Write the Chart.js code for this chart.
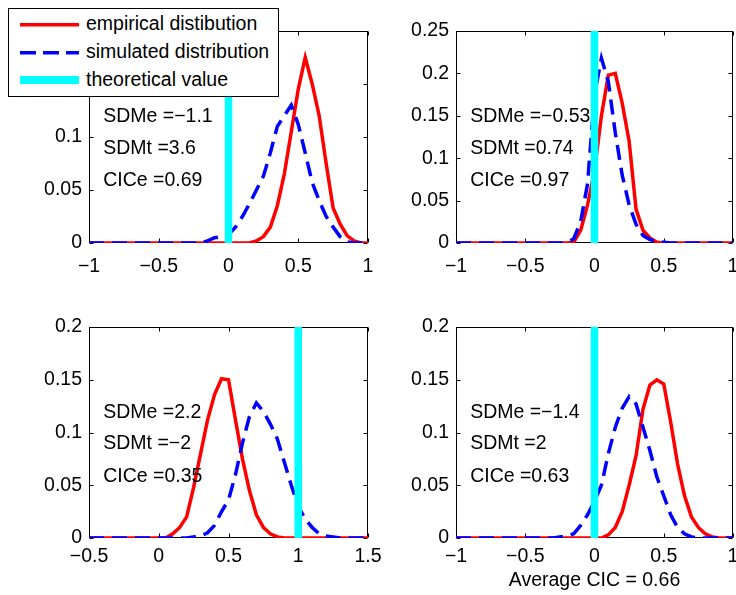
<!DOCTYPE html>
<html>
<head>
<meta charset="utf-8">
<script src="https://cdn.jsdelivr.net/npm/chart.js@4.4.0/dist/chart.umd.min.js"></script>
<style>
  body { margin: 0; background: #fff; width: 736px; height: 595px; overflow: hidden; position: relative;
         font-family: "Liberation Sans", Arial, sans-serif; }
  canvas { position: absolute; }
  #legend { position: absolute; left: 8px; top: 8px; width: 269px; height: 87px; border: 1px solid #000;
            background: #fff; z-index: 5; }
  #legend svg { position: absolute; left: 0; top: 0; }
  #legend span { position: absolute; left: 77px; font-size: 19.5px; line-height: 22px; color: #000; white-space: nowrap; }
</style>
</head>
<body>
<canvas id="c1" width="400" height="290" style="left:0;top:0"></canvas>
<canvas id="c2" width="356" height="290" style="left:380px;top:0"></canvas>
<canvas id="c3" width="400" height="305" style="left:0;top:290px"></canvas>
<canvas id="c4" width="356" height="305" style="left:380px;top:290px"></canvas>

<div id="legend">
  <svg width="269" height="87">
    <line x1="11" y1="15.7" x2="70" y2="15.7" stroke="#ff0000" stroke-width="3.5"/>
    <line x1="11" y1="43.7" x2="70" y2="43.7" stroke="#0000ff" stroke-width="3.5" stroke-dasharray="16 7"/>
    <line x1="11" y1="71" x2="70" y2="71" stroke="#00ffff" stroke-width="8"/>
  </svg>
  <span style="top:3px">empirical distibution</span>
  <span style="top:31px">simulated distribution</span>
  <span style="top:59px">theoretical value</span>
</div>

<script>
// x grids (bin centres)
const xGridA = [-1,-0.95,-0.9,-0.85,-0.8,-0.75,-0.7,-0.65,-0.6,-0.55,-0.5,-0.45,-0.4,-0.35,-0.3,-0.25,-0.2,-0.15,-0.1,-0.05,
                0,0.05,0.1,0.15,0.2,0.25,0.3,0.35,0.4,0.45,0.5,0.55,0.6,0.65,0.7,0.75,0.8,0.85,0.9,0.95,1];
const xGridB = [-0.5,-0.45,-0.4,-0.35,-0.3,-0.25,-0.2,-0.15,-0.1,-0.05,0,0.05,0.1,0.15,0.2,0.25,0.3,0.35,0.4,0.45,
                0.5,0.55,0.6,0.65,0.7,0.75,0.8,0.85,0.9,0.95,1,1.05,1.1,1.15,1.2,1.25,1.3,1.35,1.4,1.45,1.5];

// top left
const red1  = [0,0,0,0,0,0,0,0,0,0,0,0,0,0,0,0,0,0,0,0,0,0,0,0,
               0.002,0.006,0.015,0.035,0.065,0.105,0.145,0.175,0.15,0.12,0.075,0.033,0.018,0.007,0.002,0,0];
const blue1 = [0,0,0,0,0,0,0,0,0,0,0,0,0,0,0,0,0,
               0.002,0.005,0.006,0.008,0.015,0.025,0.037,0.05,0.063,0.085,0.11,0.12,0.13,0.112,0.085,0.057,0.04,0.025,0.015,0.006,0.001,0,0,0];
// top right
const red2  = [0,0,0,0,0,0,0,0,0,0,0,0,0,0,0,0,0,
               0.001,0.015,0.045,0.085,0.15,0.198,0.2,0.165,0.12,0.04,0.015,0.006,0.001,
               0,0,0,0,0,0,0,0,0,0,0];
const blue2 = [0,0,0,0,0,0,0,0,0,0,0,0,0,0,0,0,0,
               0.005,0.025,0.07,0.175,0.218,0.19,0.13,0.08,0.045,0.022,0.009,0.004,0.002,0.001,
               0,0,0,0,0,0,0,0,0,0];
// bottom left
const red3  = [0,0,0,0,0,0,0,0,0,0,0,0,
               0.004,0.01,0.02,0.048,0.08,0.112,0.136,0.151,0.15,0.112,0.075,0.045,0.022,0.01,0.004,0.001,
               0,0,0,0,0,0,0,0,0,0,0,0,0];
const blue3 = [0,0,0,0,0,0,0,0,0,0,0,0,0,0,0,
               0.001,0.002,0.005,0.012,0.025,0.036,0.06,0.09,0.115,0.128,0.12,0.108,0.094,0.072,0.05,0.03,0.018,0.01,0.004,0.002,0.001,
               0,0,0,0,0];
// bottom right
const red4  = [0,0,0,0,0,0,0,0,0,0,0,0,0,0,0,0,0,0,0,0,0,0,
               0.003,0.01,0.025,0.05,0.078,0.122,0.145,0.15,0.146,0.11,0.07,0.04,0.02,0.01,0.004,0.001,
               0,0,0];
const blue4 = [0,0,0,0,0,0,0,0,0,0,0,0,0,0,0,
               0.001,0.002,0.004,0.012,0.022,0.035,0.05,0.08,0.105,0.123,0.134,0.127,0.105,0.083,0.058,0.04,0.022,0.01,0.004,0.001,
               0,0,0,0,0,0];

const theory = [0, 0, 1, 0];
const yMaxes = [0.2, 0.25, 0.2, 0.2];

const sdme = ["\u22121.1", "\u22120.53", "2.2", "\u22121.4"];
const sdmt = ["3.6", "0.74", "\u22122", "2"];
const cice = ["0.69", "0.97", "0.35", "0.63"];

const xTicksA = [-1, -0.5, 0, 0.5, 1];
const xLabelsA = ["\u22121", "\u22120.5", "0", "0.5", "1"];
const xTicksB = [-0.5, 0, 0.5, 1, 1.5];
const xLabelsB = ["\u22120.5", "0", "0.5", "1", "1.5"];
const yTicks20 = [0, 0.05, 0.1, 0.15, 0.2];
const yLabels20 = ["0", "0.05", "0.1", "0.15", "0.2"];
const yTicks25 = [0, 0.05, 0.1, 0.15, 0.2, 0.25];
const yLabels25 = ["0", "0.05", "0.1", "0.15", "0.2", "0.25"];

const FONT = "'Liberation Sans', Arial, sans-serif";
const FSIZE = 19.5;

// matlab style box with inward ticks + the text notes
const boxPlugin = {
  id: 'mbox',
  beforeDatasetsDraw(chart) {
    const {ctx, chartArea: a, scales: {x, y}} = chart;
    const L = Math.round(a.left) + 0.5, R = Math.round(a.right) - 0.5;
    const T = Math.round(a.top) + 0.5, B = Math.round(a.bottom) - 0.5;
    ctx.save();
    ctx.strokeStyle = '#000';
    ctx.lineWidth = 1;
    ctx.strokeRect(L, T, R - L, B - T);
    ctx.beginPath();
    x.ticks.forEach(t => {
      const px = Math.round(x.getPixelForValue(t.value)) + 0.5;
      ctx.moveTo(px, B); ctx.lineTo(px, B - 4);
      ctx.moveTo(px, T); ctx.lineTo(px, T + 4);
    });
    y.ticks.forEach(t => {
      const py = Math.round(y.getPixelForValue(t.value)) + 0.5;
      ctx.moveTo(L, py); ctx.lineTo(L + 4, py);
      ctx.moveTo(R, py); ctx.lineTo(R - 4, py);
    });
    ctx.stroke();
    ctx.restore();
  },
  afterDatasetsDraw(chart, args, opts) {
    const {ctx, chartArea: a} = chart;
    const w = a.right - a.left, h = a.bottom - a.top;
    ctx.save();
    ctx.font = FSIZE + 'px ' + FONT;
    ctx.fillStyle = '#000';
    ctx.textBaseline = 'middle';
    ctx.textAlign = 'left';
    const fr = [0.404, 0.555, 0.708];
    opts.lines.forEach((s, i) => ctx.fillText(s, a.left + 0.051 * w, a.top + fr[i] * h));
    ctx.restore();
  }
};

function makePlot(id, k, xs, red, blue, xMin, xMax, xTicks, xLabels, yTicks, yLabels, yW, pad, xH, xPad, xTitle) {
  const yMax = yMaxes[k];
  new Chart(document.getElementById(id), {
    type: 'line',
    data: {
      datasets: [
        { label: 'theoretical value', data: [{x: theory[k], y: 0}, {x: theory[k], y: yMax}],
          borderColor: '#00ffff', borderWidth: 7.5, borderCapStyle: 'butt', order: 0 },
        { label: 'simulated distribution', data: xs.map((v, i) => ({x: v, y: blue[i]})),
          borderColor: '#0000ff', borderWidth: 3.5, borderDash: [15, 8], order: 1 },
        { label: 'empirical distibution', data: xs.map((v, i) => ({x: v, y: red[i]})),
          borderColor: '#ff0000', borderWidth: 3.5, order: 2 }
      ]
    },
    options: {
      responsive: false,
      animation: false,
      devicePixelRatio: 1,
      layout: { padding: pad },
      elements: { point: { radius: 0 }, line: { tension: 0, fill: false } },
      plugins: {
        legend: { display: false },
        tooltip: { enabled: false },
        mbox: { lines: ['SDMe =' + sdme[k], 'SDMt =' + sdmt[k], 'CICe =' + cice[k]] }
      },
      scales: {
        x: {
          type: 'linear', min: xMin, max: xMax,
          grid: { display: false, drawTicks: false },
          border: { display: false },
          afterBuildTicks: s => { s.ticks = xTicks.map(v => ({value: v})); },
          ticks: { callback: (v, i) => xLabels[i], color: '#000', padding: xPad,
                   font: { family: FONT, size: FSIZE }, maxRotation: 0, autoSkip: false },
          title: { display: !!xTitle, text: xTitle || '', color: '#000',
                   font: { family: FONT, size: FSIZE }, padding: { top: 0, bottom: 3 } },
          afterFit: s => { s.height = xH; s.paddingLeft = 0; s.paddingRight = 0; }
        },
        y: {
          type: 'linear', min: 0, max: yMax,
          grid: { display: false, drawTicks: false },
          border: { display: false },
          afterBuildTicks: s => { s.ticks = yTicks.map(v => ({value: v})); },
          ticks: { callback: (v, i) => yLabels[i], color: '#000', padding: 7,
                   font: { family: FONT, size: FSIZE } },
          afterFit: s => { s.width = yW; s.paddingTop = 0; s.paddingBottom = 0; }
        }
      }
    },
    plugins: [boxPlugin]
  });
}

makePlot('c1', 0, xGridA, red1, blue1, -1, 1, xTicksA, xLabelsA, yTicks20, yLabels20, 89,
         {left: 0, right: 32, top: 31, bottom: 0}, 47, 12);
makePlot('c2', 1, xGridA, red2, blue2, -1, 1, xTicksA, xLabelsA, yTicks25, yLabels25, 76,
         {left: 0, right: 3, top: 31, bottom: 0}, 47, 12);
makePlot('c3', 2, xGridB, red3, blue3, -0.5, 1.5, xTicksB, xLabelsB, yTicks20, yLabels20, 89,
         {left: 0, right: 32, top: 37, bottom: 0}, 57, 7);
makePlot('c4', 3, xGridA, red4, blue4, -1, 1, xTicksA, xLabelsA, yTicks20, yLabels20, 76,
         {left: 0, right: 3, top: 37, bottom: 0}, 57, 7, 'Average CIC = 0.66');
</script>
</body>
</html>
